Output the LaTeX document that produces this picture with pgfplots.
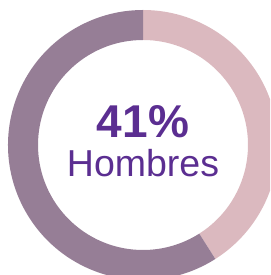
\documentclass[border=0pt]{standalone}
\usepackage{pgfplots}
\usepackage{pgfplotstable}
\pgfplotsset{compat=1.18}
\usepackage{fontspec}
\setmainfont{Liberation Sans}
\definecolor{pinkc}{HTML}{DBB9BF}
\definecolor{mauvec}{HTML}{967E96}
\definecolor{textc}{HTML}{5B2E91}
\pgfplotstableread{
label value
Hombres 41
Mujeres 59
}\datatable
\begin{document}
\begin{tikzpicture}
\begin{axis}[
  scale only axis, width=270pt, height=275pt,
  xmin=-143, xmax=127, ymin=-130, ymax=145,
  hide axis, clip=true,
]
\pgfplotstablegetelem{0}{value}\of\datatable
\pgfmathsetmacro\angA{90-3.6*\pgfplotsretval}
\fill[pinkc] (axis cs:0,135) arc[start angle=90,end angle=\angA,radius=135pt]
  -- (axis cs:{105*cos(\angA)},{105*sin(\angA)}) arc[start angle=\angA,end angle=90,radius=105pt] -- cycle;
\fill[mauvec] (axis cs:{135*cos(\angA)},{135*sin(\angA)}) arc[start angle=\angA,end angle=-270,radius=135pt]
  -- (axis cs:0,105) arc[start angle=90,end angle=\angA+360,radius=105pt] -- cycle;
\node[anchor=base, text=textc, font=\fontsize{46}{46}\selectfont\bfseries, inner sep=0pt] at (axis cs:0,7) {41\%};
\node[anchor=base, text=textc, font=\fontsize{37.5}{37.5}\selectfont, inner sep=0pt] at (axis cs:0,-32) {Hombres};
\end{axis}
\pgfresetboundingbox
\path[use as bounding box] (current axis.south west) rectangle (current axis.north east);
\end{tikzpicture}
\end{document}
